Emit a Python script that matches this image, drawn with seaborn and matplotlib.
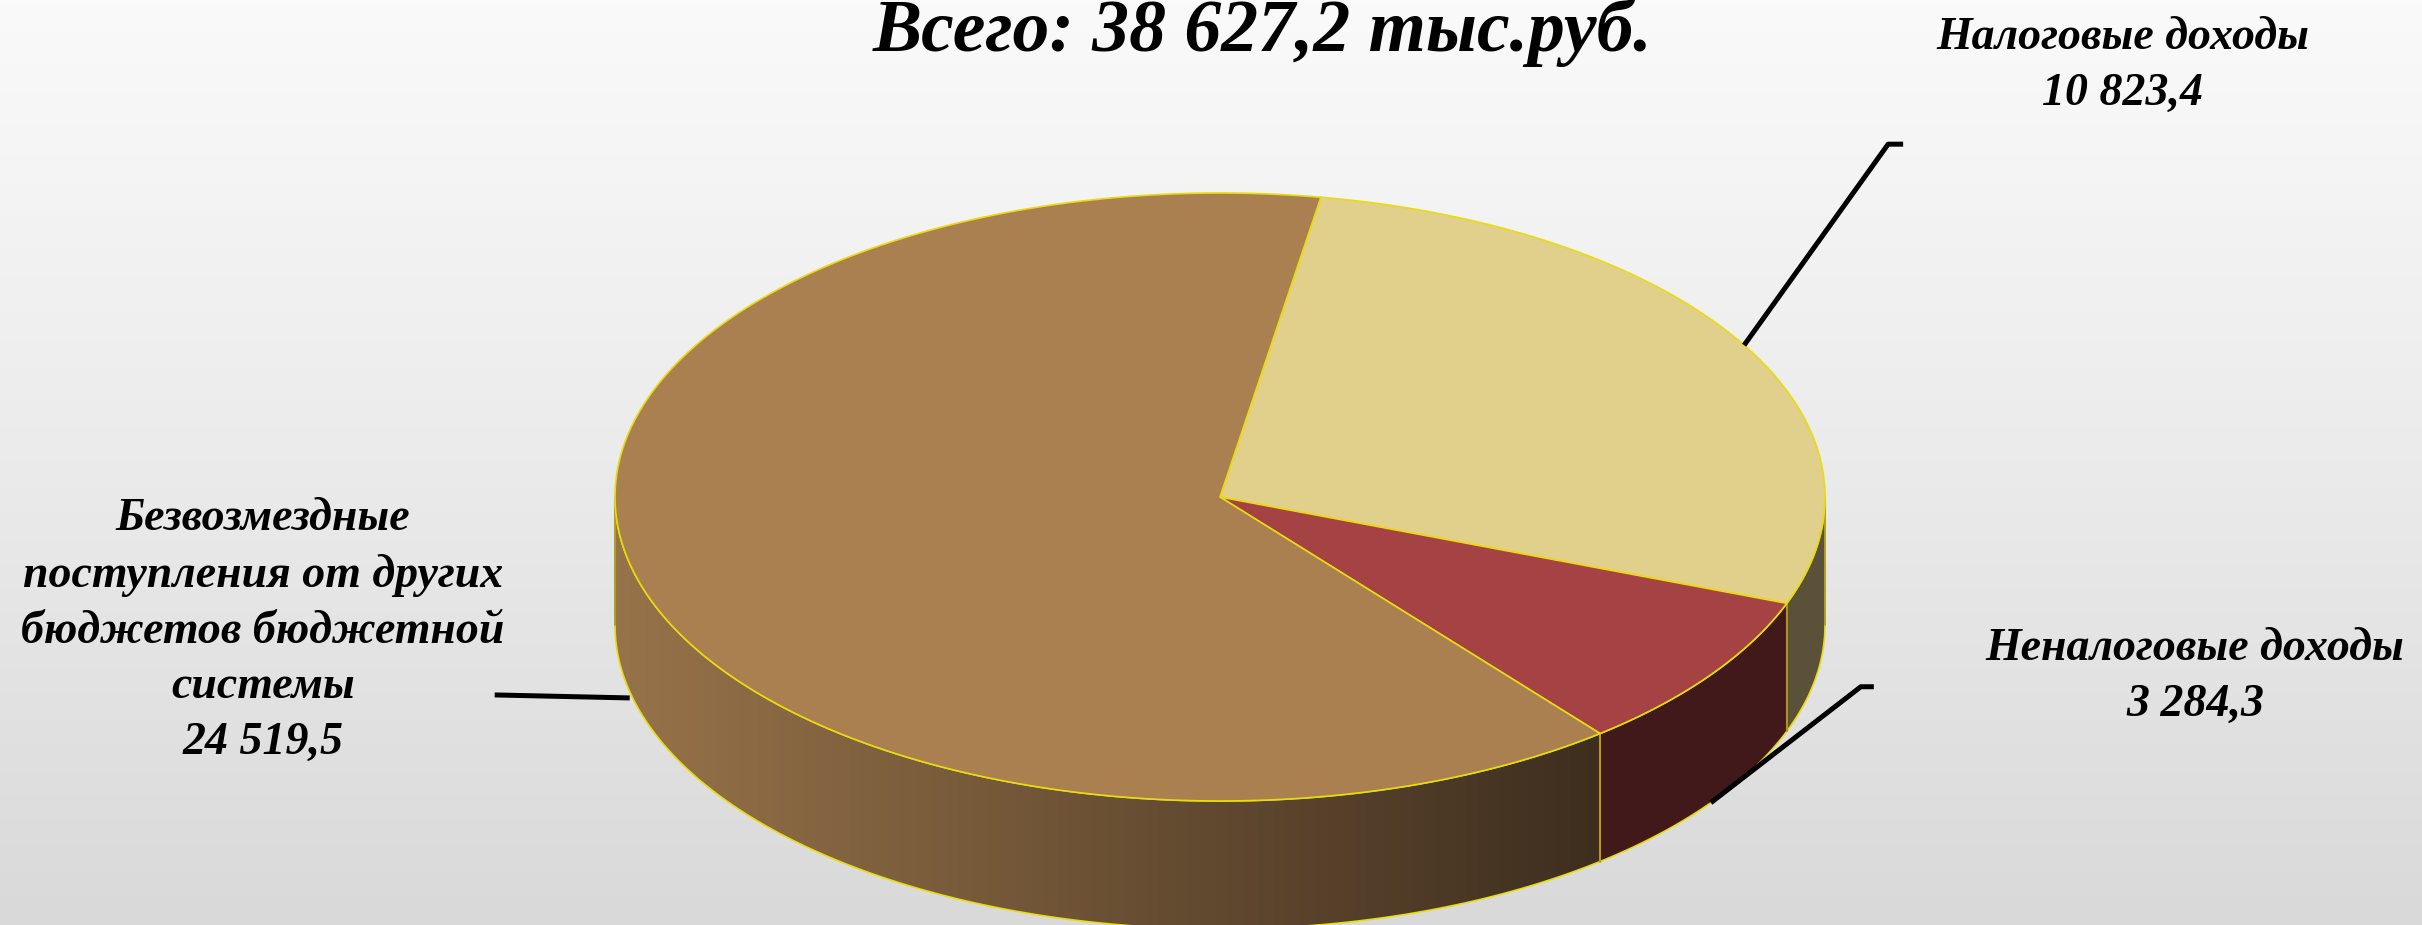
import numpy as np
import matplotlib
matplotlib.use("Agg")
import matplotlib.pyplot as plt
from matplotlib.colors import LinearSegmentedColormap
from matplotlib.patches import Polygon
import seaborn as sns

# Data (thousand roubles)
categories = ["Налоговые доходы", "Неналоговые доходы",
              "Безвозмездные\nпоступления от других\nбюджетов бюджетной\nсистемы"]
values = [10823.4, 3284.3, 24519.5]
value_labels = ["10 823,4", "3 284,3", "24 519,5"]
total_label = "Всего: 38 627,2 тыс.руб."

# Styling
top_colors = ["#E0D08C", "#A54243", "#AA8050"]
side_colors = ["#5B5139", "#41191A", None]   # None -> gradient wall
edge_yellow = "#E8DC10"
font = dict(family="Liberation Serif", weight="bold", style="italic",
            color="black")

sns.set_style("white")

W, H = 2422, 925
fig = plt.figure(figsize=(W / 100, H / 100), dpi=100)
ax = fig.add_axes([0, 0, 1, 1])
ax.set_xlim(0, W)
ax.set_ylim(H, 0)
ax.axis("off")

# background gradient
bg_cmap = LinearSegmentedColormap.from_list("bg", ["#FAFAFA", "#EBEBEB", "#D9D9D9"])
ax.imshow(np.linspace(0, 1, 256).reshape(-1, 1), extent=[0, W, H, 0],
          cmap=bg_cmap, aspect="auto", zorder=0)

# pie geometry (pixel space)
cx, cy, rx, ry, depth = 1220, 497, 605, 304, 128
start = 80.4

fracs = np.array(values) / np.sum(values)
bounds = start - 360 * np.concatenate([[0], np.cumsum(fracs)])


def arc(a, b, n=200):
    t = np.radians(np.linspace(a, b, n))
    return cx + rx * np.cos(t), cy - ry * np.sin(t)


# side walls (front half only)
for i in range(len(values)):
    a, b = bounds[i], bounds[i + 1]
    for k in (-1, 0, 1):
        lo, hi = max(b, -180 + 360 * k), min(a, 360 * k)
        if hi <= lo:
            continue
        x, y = arc(hi, lo)
        px = np.concatenate([x, x[::-1]])
        py = np.concatenate([y, (y + depth)[::-1]])
        pts = np.column_stack([px, py])
        if side_colors[i] is None:
            poly = Polygon(pts, closed=True, facecolor="none",
                           edgecolor=edge_yellow, lw=1.2, zorder=3)
            ax.add_patch(poly)
            wall_cmap = LinearSegmentedColormap.from_list(
                "wall", ["#977349", "#3E2E1F"])
            im = ax.imshow(np.linspace(0, 1, 256).reshape(1, -1),
                           extent=[px.min(), px.max(), py.max(), py.min()],
                           cmap=wall_cmap, aspect="auto", zorder=2)
            im.set_clip_path(poly)
        else:
            ax.add_patch(Polygon(pts, closed=True, facecolor=side_colors[i],
                                 edgecolor=edge_yellow, lw=1.2, zorder=2))
        # vertical boundary lines
        for t in (hi, lo):
            xt, yt = arc(t, t, 1)
            ax.plot([xt[0], xt[0]], [yt[0], yt[0] + depth],
                    color="#A89420", lw=1.2, zorder=3)

# top faces
for i in range(len(values)):
    x, y = arc(bounds[i], bounds[i + 1])
    pts = np.column_stack([np.r_[cx, x], np.r_[cy, y]])
    ax.add_patch(Polygon(pts, closed=True, facecolor=top_colors[i],
                         edgecolor=edge_yellow, lw=1.2, zorder=4))

# labels with leader lines
mids = (bounds[:-1] + bounds[1:]) / 2


def anchor(i, drop):
    x, y = arc(mids[i], mids[i], 1)
    return x[0], y[0] + drop


lab_size, lab_ls = 33, 1.43

# tax revenue
ax0, ay0 = anchor(0, 0)
ax.plot([ax0, ax0 + 144, ax0 + 159], [ay0, ay0 - 201, ay0 - 201],
        color="black", lw=3.6, zorder=5, solid_capstyle="butt")
ax.text(2123, 66, f"{categories[0]}\n{value_labels[0]}", ha="center",
        va="center", fontsize=lab_size, linespacing=lab_ls, **font)

# non-tax revenue
ax1, ay1 = anchor(1, depth)
ax.plot([ax1, ax1 + 150, ax1 + 163], [ay1, ay1 - 116, ay1 - 116],
        color="black", lw=3.6, zorder=5, solid_capstyle="butt")
ax.text(2195, 677, f"{categories[1]}\n{value_labels[1]}", ha="center",
        va="center", fontsize=lab_size, linespacing=lab_ls, **font)

# transfers
ax2, ay2 = anchor(2, depth - 4)
ax.plot([ax2 - 5, ax2 - 140], [ay2, ay2 - 3],
        color="black", lw=3.6, zorder=5, solid_capstyle="butt")
ax.text(263, 631, f"{categories[2]}\n{value_labels[2]}", ha="center",
        va="center", fontsize=lab_size, linespacing=lab_ls, **font)

ax.text(1262, 32, total_label, ha="center", va="center",
        fontsize=53, **font)

fig.savefig("out.png", dpi=100)
